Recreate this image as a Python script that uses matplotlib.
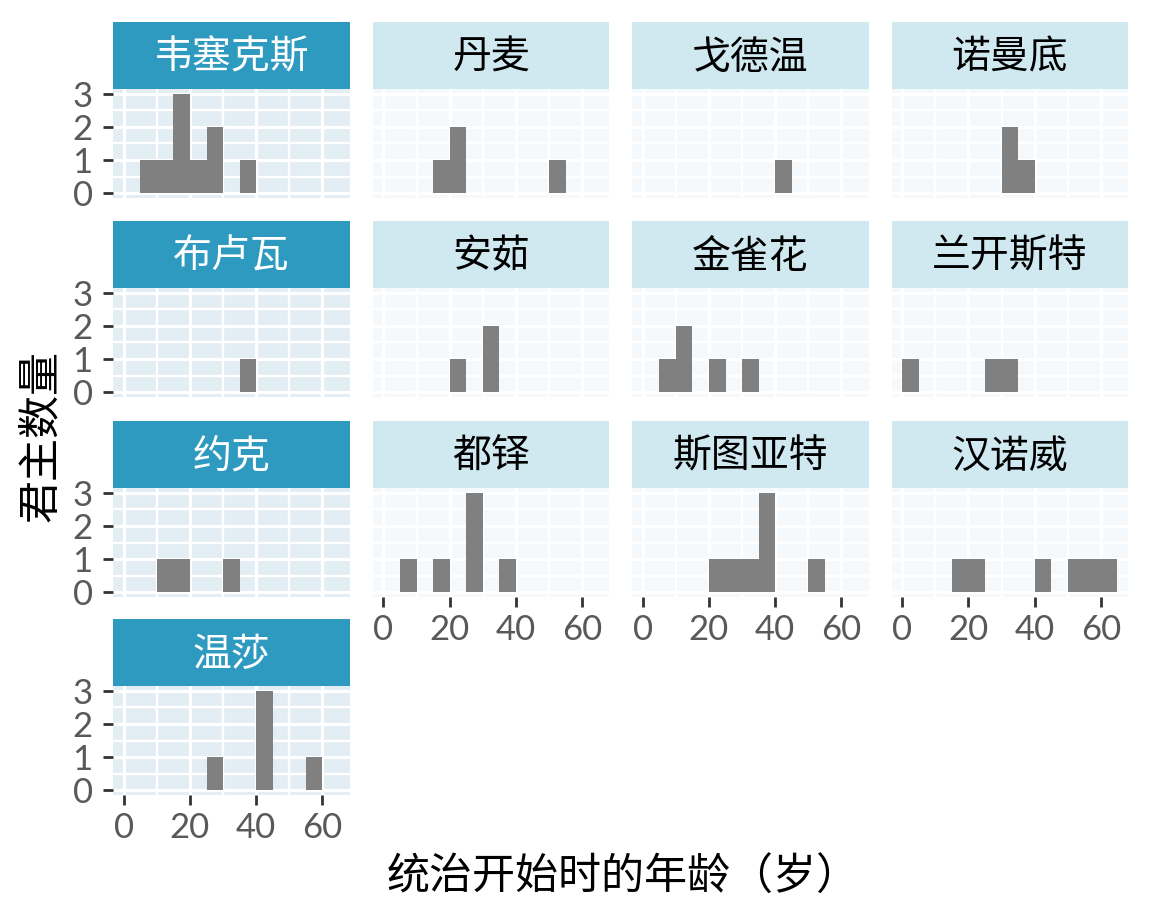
import numpy as np
import matplotlib
matplotlib.use("Agg")
import matplotlib.pyplot as plt

plt.rcParams["font.family"] = ["Lato", "Noto Sans CJK SC", "DejaVu Sans"]

# houses in facet order, and counts of monarchs per 5-year bin of age at accession
houses = ["韦塞克斯", "丹麦", "戈德温", "诺曼底",
          "布卢瓦", "安茹", "金雀花", "兰开斯特",
          "约克", "都铎", "斯图亚特", "汉诺威",
          "温莎"]
bin_starts = [0, 5, 10, 15, 20, 25, 30, 35, 40, 45, 50, 55, 60]
wessex =       [0, 1, 1, 3, 1, 2, 0, 1, 0, 0, 0, 0, 0]
denmark =      [0, 0, 0, 1, 2, 0, 0, 0, 0, 0, 1, 0, 0]
godwin =       [0, 0, 0, 0, 0, 0, 0, 0, 1, 0, 0, 0, 0]
normandy =     [0, 0, 0, 0, 0, 0, 2, 1, 0, 0, 0, 0, 0]
blois =        [0, 0, 0, 0, 0, 0, 0, 1, 0, 0, 0, 0, 0]
anjou =        [0, 0, 0, 0, 1, 0, 2, 0, 0, 0, 0, 0, 0]
plantagenet =  [0, 1, 2, 0, 1, 0, 1, 0, 0, 0, 0, 0, 0]
lancaster =    [1, 0, 0, 0, 0, 1, 1, 0, 0, 0, 0, 0, 0]
york =         [0, 0, 1, 1, 0, 0, 1, 0, 0, 0, 0, 0, 0]
tudor =        [0, 1, 0, 1, 0, 3, 0, 1, 0, 0, 0, 0, 0]
stuart =       [0, 0, 0, 0, 1, 1, 1, 3, 0, 0, 1, 0, 0]
hanover =      [0, 0, 0, 1, 1, 0, 0, 0, 1, 0, 1, 1, 1]
windsor =      [0, 0, 0, 0, 0, 1, 0, 0, 3, 0, 0, 1, 0]
counts = [wessex, denmark, godwin, normandy, blois, anjou, plantagenet,
          lancaster, york, tudor, stuart, hanover, windsor]

x_ticks = [0, 20, 40, 60]
y_ticks = [0, 1, 2, 3]
x_label = "统治开始时的年龄（岁）"
y_label = "君主数量"

W, H = 1152, 923
fig = plt.figure(figsize=(W / 100, H / 100), dpi=100)

col_left = [113, 372.7, 632, 891.5]
col_w = 236.7
row_top = [22, 221, 421, 619]
strip_h = 67
panel_h = 109

dark_strip = "#2e9ac0"
light_strip = "#d0e8f0"
dark_bg = "#e3edf4"
light_bg = "#f6f9fc"
bar_col = "#808080"
cjk = ["Noto Sans CJK SC", "DejaVu Sans"]


def px_axes(left, top, w, h):
    return fig.add_axes([left / W, 1 - (top + h) / H, w / W, h / H])


for i, (name, c) in enumerate(zip(houses, counts)):
    r, k = divmod(i, 4)
    left = col_left[k]
    top = row_top[r]
    first_col = k == 0

    # strip
    sa = px_axes(left, top, col_w, strip_h)
    sa.set_facecolor(dark_strip if first_col else light_strip)
    sa.set_xticks([])
    sa.set_yticks([])
    for s in sa.spines.values():
        s.set_visible(False)
    sa.text(0.5, 0.47, name, ha="center", va="center", fontsize=28,
            family=cjk, color="white" if first_col else "black",
            transform=sa.transAxes)

    # panel
    ax = px_axes(left, top + strip_h, col_w, panel_h)
    ax.set_facecolor(dark_bg if first_col else light_bg)
    starts = [b for b, n in zip(bin_starts, c) if n > 0]
    vals = [n for n in c if n > 0]
    ax.bar(starts, vals, width=5, align="edge", color=bar_col, linewidth=0, zorder=3)
    ax.set_xlim(-3.25, 68.25)
    ax.set_ylim(-0.15, 3.15)
    ax.set_xticks(x_ticks)
    ax.set_xticks([10, 30, 50], minor=True)
    ax.set_yticks(y_ticks)
    ax.set_yticks([0.5, 1.5, 2.5], minor=True)
    ax.set_axisbelow(True)
    ax.grid(which="major", color="white", linewidth=2.3)
    ax.grid(which="minor", color="white", linewidth=1.7)
    for s in ax.spines.values():
        s.set_visible(False)
    ax.tick_params(which="minor", length=0)

    bottom_row = (r == 2 and k > 0) or r == 3
    ax.tick_params(axis="x", which="major", length=7.5 if bottom_row else 0,
                   width=2, color="#333333", labelsize=25, labelcolor="#595959",
                   pad=5, labelbottom=bottom_row)
    ax.tick_params(axis="y", which="major", length=7.5 if first_col else 0,
                   width=2, color="#333333", labelsize=25, labelcolor="#595959",
                   pad=7, labelleft=first_col)

fig.text(623 / W, 1 - 878 / H, x_label, ha="center", va="center", fontsize=31,
         family=cjk)
fig.text(41 / W, 1 - 436 / H, y_label, ha="center", va="center", fontsize=31,
         rotation=90, family=cjk)

fig.savefig("out.png", dpi=100, facecolor="white")
